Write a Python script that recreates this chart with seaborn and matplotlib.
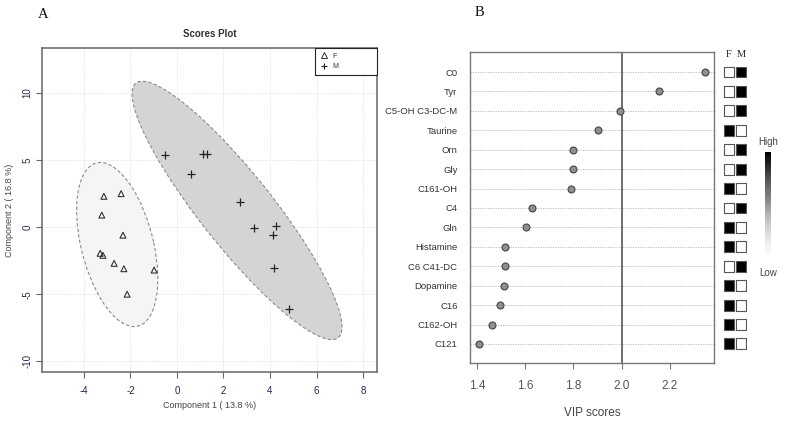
import numpy as np
import pandas as pd
import matplotlib
matplotlib.use("Agg")
import matplotlib.pyplot as plt
import seaborn as sns
from matplotlib.patches import Ellipse
from matplotlib.lines import Line2D

# ---------------- data ----------------
f_x = [-3.14, -2.40, -3.23, -2.32, -3.30, -3.18, -2.70, -2.28, -0.98, -2.14]
f_y = [2.30, 2.50, 0.90, -0.60, -1.95, -2.10, -2.70, -3.10, -3.20, -5.00]
m_x = [-0.52, 1.10, 1.30, 0.60, 2.70, 3.30, 4.24, 4.12, 4.17, 4.83]
m_y = [5.40, 5.45, 5.45, 4.00, 1.90, -0.05, 0.10, -0.60, -3.05, -6.10]

features = ["C0", "Tyr", "C5-OH C3-DC-M", "Taurine", "Orn", "Gly", "C161-OH",
            "C4", "Gln", "Histamine", "C6 C41-DC", "Dopamine", "C16",
            "C162-OH", "C121"]
vip = [2.346, 2.155, 1.995, 1.900, 1.800, 1.798, 1.789, 1.628, 1.603,
       1.516, 1.516, 1.512, 1.495, 1.464, 1.408]
f_high = [0, 0, 0, 1, 0, 0, 1, 0, 1, 1, 0, 1, 1, 1, 1]
m_high = [1, 1, 1, 0, 1, 1, 0, 1, 0, 0, 1, 0, 0, 0, 0]

xticksA = [-4, -2, 0, 2, 4, 6, 8]
yticksA = [-10, -5, 0, 5, 10]
xticksB = [1.4, 1.6, 1.8, 2.0, 2.2]

# ---------------- style ----------------
sns.set_theme(style="white")
plt.rcParams["font.family"] = ["Liberation Sans", "DejaVu Sans"]

W, H = 785, 422
fig = plt.figure(figsize=(W / 100, H / 100), dpi=100)


def px_axes(x0, y0, x1, y1):
    return fig.add_axes([x0 / W, 1 - y1 / H, (x1 - x0) / W, (y1 - y0) / H])


# ---------------- panel A ----------------
axA = px_axes(42, 48, 377, 372)
dfA = pd.DataFrame({"c1": f_x + m_x, "c2": f_y + m_y,
                    "group": ["F"] * len(f_x) + ["M"] * len(m_x)})


def conf_ellipse(x, y, ax, **kw):
    x = np.asarray(x); y = np.asarray(y)
    cov = np.cov(x, y)
    vals, vecs = np.linalg.eigh(cov)
    order = vals.argsort()[::-1]
    vals, vecs = vals[order], vecs[:, order]
    angle = np.degrees(np.arctan2(vecs[1, 0], vecs[0, 0]))
    k = np.sqrt(5.991)
    w, h = 2 * k * np.sqrt(vals)
    e = Ellipse((x.mean(), y.mean()), w, h, angle=angle, **kw)
    ax.add_patch(e)


conf_ellipse(f_x, f_y, axA, facecolor="#f5f5f5", edgecolor="#8a8a8a",
             linestyle=(0, (3, 2)), linewidth=0.8, zorder=1)
conf_ellipse(m_x, m_y, axA, facecolor="#d4d4d4", edgecolor="#8a8a8a",
             linestyle=(0, (3, 2)), linewidth=0.8, zorder=1)

dF = dfA[dfA.group == "F"]
dM = dfA[dfA.group == "M"]
sns.scatterplot(data=dF, x="c1", y="c2", marker="^", s=18, facecolor="none",
                edgecolor="#333333", linewidth=0.8, ax=axA, zorder=3)
sns.scatterplot(data=dM, x="c1", y="c2", marker="+", s=28, color="#222222",
                linewidth=0.9, ax=axA, zorder=3)

axA.set_xlim(-5.8, 8.6)
axA.set_ylim(-10.8, 13.36)
axA.set_xticks(xticksA)
axA.set_xticklabels([str(t) for t in xticksA])
axA.set_yticks(yticksA)
axA.set_yticklabels([str(t) for t in yticksA], rotation=90, va="center")
axA.grid(True, color="#e4e4e4", linestyle=(0, (1, 1)), linewidth=0.7)
axA.set_axisbelow(True)
for sp in axA.spines.values():
    sp.set_color("#666666")
    sp.set_linewidth(1.1)
axA.tick_params(axis="x", which="both", length=4, width=0.8,
                color="#666666", labelsize=7, labelcolor="#1f2a4a",
                bottom=True, pad=6)
axA.tick_params(axis="y", which="both", length=4, width=0.8,
                color="#666666", labelsize=7, labelcolor="#1f2a4a",
                left=True, pad=3)
axA.set_xlabel("Component 1 ( 13.8 %)", fontsize=6.5, color="#444444",
               labelpad=4)
axA.set_ylabel("Component 2 ( 16.8 %)", fontsize=6.5, color="#444444",
               labelpad=6)
axA.set_title("Scores Plot", fontsize=7, fontweight="bold", color="#333333",
              pad=8)
handles = [Line2D([], [], marker="^", linestyle="none", markersize=4,
                  markerfacecolor="none", markeredgecolor="#333333",
                  markeredgewidth=0.7, label="F"),
           Line2D([], [], marker="+", linestyle="none", markersize=5,
                  color="#222222", markeredgewidth=0.8, label="M")]
legw = 62 / 335
leg = axA.legend(handles=handles, loc="upper right",
                 bbox_to_anchor=(1 - legw, 0, legw, 1), mode="expand",
                 borderaxespad=0, fontsize=5, frameon=True, fancybox=False,
                 edgecolor="#222222", handletextpad=0.6, handlelength=1.2,
                 borderpad=0.7, labelspacing=0.5)
leg.get_frame().set_linewidth(0.8)
leg.get_frame().set_alpha(1)
for t in leg.get_texts():
    t.set_color("#333333")

# ---------------- panel B ----------------
axB = px_axes(470, 52, 714, 363)
dfB = pd.DataFrame({"feature": features, "vip": vip})
sns.stripplot(data=dfB, x="vip", y="feature", orient="h", jitter=False,
              size=5, color="#8f8f8f", edgecolor="#444444", linewidth=0.8,
              ax=axB, zorder=3)
axB.set_xlim(1.371, 2.383)
axB.set_ylim(14.98, -1.03)
axB.axvline(2.0, color="#555555", linewidth=1.2, zorder=2)
axB.grid(axis="y", color="#b5b5b5", linestyle=(0, (1.5, 1.5)), linewidth=0.6)
axB.grid(axis="x", visible=False)
axB.set_axisbelow(True)
axB.set_xticks(xticksB)
axB.set_xticklabels([f"{t:.1f}" for t in xticksB])
for sp in axB.spines.values():
    sp.set_color("#777777")
    sp.set_linewidth(1.0)
axB.tick_params(axis="y", length=0, labelsize=6.8, labelcolor="#333333",
                pad=9)
axB.tick_params(axis="x", length=4, width=0.8, color="#777777", bottom=True,
                labelsize=8.5, labelcolor="#555555", pad=8)
axB.set_xlabel("VIP scores", fontsize=8.5, color="#444444", labelpad=11)
axB.set_ylabel("")

# ---------------- heat squares ----------------
axH = px_axes(723, 52, 747, 363)
rows = np.arange(len(features))
greys = {0: "white", 1: "black"}
axH.scatter(np.zeros(len(rows)), rows, marker="s", s=62,
            c=[greys[v] for v in f_high], edgecolors="#555555", linewidths=0.8)
axH.scatter(np.ones(len(rows)), rows, marker="s", s=62,
            c=[greys[v] for v in m_high], edgecolors="#555555", linewidths=0.8)
axH.set_xlim(-0.5, 1.5)
axH.set_ylim(14.98, -1.03)
axH.axis("off")
for i, lab in enumerate(["F", "M"]):
    axH.text(i, -0.9, lab, ha="center", va="center", fontsize=7.5,
             family=["Liberation Serif", "DejaVu Serif"], color="#222222")

# ---------------- colour key ----------------
axC = px_axes(765, 152, 771, 257)
grad = np.linspace(1, 0, 256).reshape(-1, 1)
axC.imshow(grad, aspect="auto", cmap="Greys", vmin=0, vmax=1)
axC.axis("off")
fig.text(768 / W, 1 - 142 / H, "High", ha="center", va="center",
         fontsize=7, color="#444444")
fig.text(768 / W, 1 - 273 / H, "Low", ha="center", va="center",
         fontsize=7, color="#444444")

# ---------------- panel letters ----------------
fig.text(43 / W, 1 - 14 / H, "A", ha="center", va="center", fontsize=10.5,
         family=["Liberation Serif", "DejaVu Serif"], color="#111111")
fig.text(479 / W, 1 - 13 / H, "B", ha="center", va="center", fontsize=10.5,
         family=["Liberation Serif", "DejaVu Serif"], color="#111111")

fig.savefig("out.png", dpi=100)
